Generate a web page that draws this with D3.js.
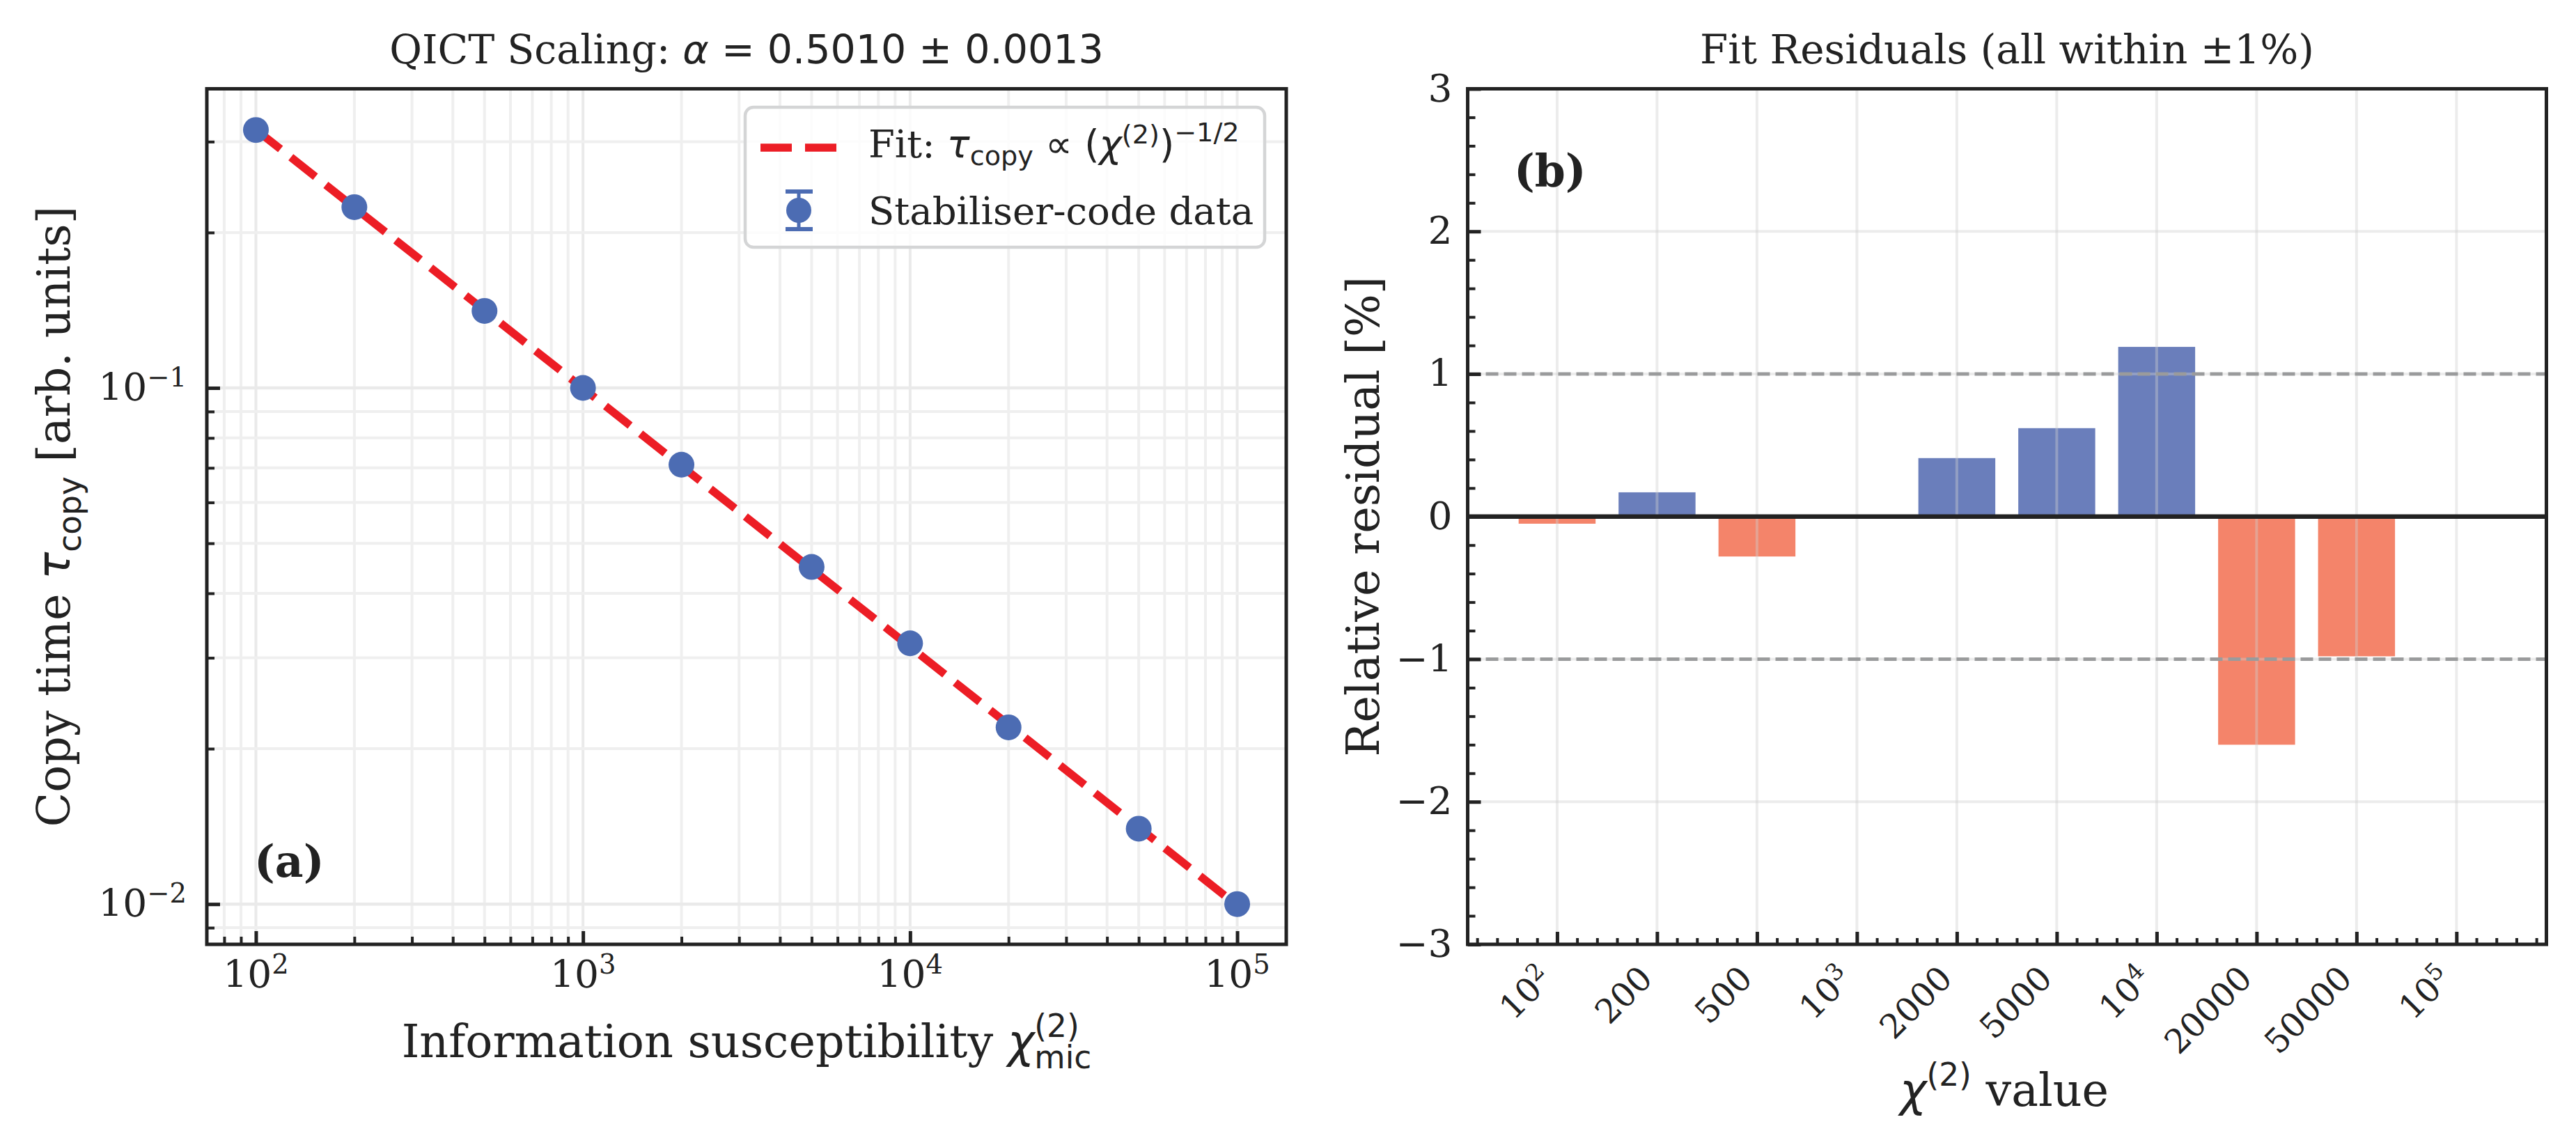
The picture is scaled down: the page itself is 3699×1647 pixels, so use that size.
<!DOCTYPE html>
<html>
<head>
<meta charset="utf-8">
<title>QICT scaling and fit residuals</title>
<script src="https://d3js.org/d3.v7.min.js"></script>
<style>
  body { margin: 0; background: #fff; }
  text { white-space: pre; }
</style>
</head>
<body>
<svg id="chart"></svg>
<script>
// values
const chiValues = [100, 200, 500, 1000, 2000, 5000, 10000, 20000, 50000, 100000];
const tauValues = [0.316, 0.224, 0.141, 0.100, 0.071, 0.045, 0.032, 0.022, 0.014, 0.010];
const tauErrors = [0.0025, 0.0018, 0.0011, 0.0008, 0.00055, 0.00035, 0.00025, 0.00017, 0.00011, 0.00008];
const fitChi = [100, 100000];
const fitTau = [0.3165, 0.00994];

const residualLabels = [['10', '2'], ['200'], ['500'], ['10', '3'], ['2000'], ['5000'], ['10', '4'], ['20000'], ['50000'], ['10', '5']];
const residuals = [-0.05, 0.17, -0.28, 0.00, 0.41, 0.62, 1.19, -1.60, -0.98, 0.00];
const residualTicks = [-3, -2, -1, 0, 1, 2, 3];
const bandLimits = [-1, 1];

const W = 3699, H = 1647;
const SERIF = "'DejaVu Serif', serif";
const SANS = "'DejaVu Sans', sans-serif";
const INK = '#222';
const BLUE = '#4c6cb3';
const RED = '#ec1d25';
const BAR_POS = '#6a7ebb';
const BAR_NEG = '#f4846a';

const svg = d3.select('#chart').attr('width', W).attr('height', H)
    .style('background', '#fff');

// lays out a row of text runs (sub/superscripts etc.) and anchors the whole row
function richText(parent, runs, opts) {
    const g = parent.append('g');
    const base = opts.size;
    let x = 0, runStart = 0;
    const nodes = [];
    runs.forEach(r => {
        const t = g.append('text')
            .attr('y', (r.shift || 0) * base)
            .attr('font-family', r.sans ? SANS : SERIF)
            .attr('font-size', base * (r.scale || 1))
            .attr('font-style', r.italic ? 'italic' : 'normal')
            .attr('font-weight', opts.bold ? 'bold' : 'normal')
            .attr('fill', INK)
            .text(r.t);
        const start = r.stack ? runStart : x;
        if (!r.stack) runStart = start;
        t.attr('x', start);
        x = Math.max(x, start + t.node().getComputedTextLength());
        nodes.push(t);
    });
    const off = opts.anchor === 'middle' ? -x / 2 : opts.anchor === 'end' ? -x : 0;
    nodes.forEach(t => t.attr('x', +t.attr('x') + off));
    if (opts.transform) g.attr('transform', opts.transform);
    return g;
}
const SUP = { scale: 0.7, shift: -0.36 };
const SUB = { scale: 0.7, shift: 0.2 };
const minus = d => (d < 0 ? '−' : '') + Math.abs(d);

function styleTicks(g, width) {
    g.attr('color', INK);
    g.select('.domain').remove();
    g.selectAll('line').attr('stroke-width', width);
}

// ---------------- panel (a) ----------------
const A = { left: 297, right: 1847, top: 127.5, bottom: 1356 };
const xA = d3.scaleLog().domain([10 ** 1.85, 10 ** 5.15]).range([A.left, A.right]);
const yA = d3.scaleLog().domain([10 ** -2.078, 10 ** -0.4205]).range([A.bottom, A.top]);
const isDecade = v => Math.abs(Math.log10(v) - Math.round(Math.log10(v))) < 1e-9;
const xAll = xA.ticks(), yAll = yA.ticks();
const xMajor = xAll.filter(isDecade), xMinor = xAll.filter(v => !isDecade(v));
const yMajor = yAll.filter(isDecade), yMinor = yAll.filter(v => !isDecade(v));

const pa = svg.append('g');
const gridA = pa.append('g');
gridA.selectAll('.vx').data(xAll).enter().append('line')
    .attr('x1', d => xA(d)).attr('x2', d => xA(d))
    .attr('y1', A.top).attr('y2', A.bottom)
    .attr('stroke', d => isDecade(d) ? '#eaeaea' : '#efefef')
    .attr('stroke-width', 4);
gridA.selectAll('.hy').data(yAll).enter().append('line')
    .attr('y1', d => yA(d)).attr('y2', d => yA(d))
    .attr('x1', A.left).attr('x2', A.right)
    .attr('stroke', d => isDecade(d) ? '#eaeaea' : '#efefef')
    .attr('stroke-width', d => isDecade(d) ? 4.5 : 4);

// fit line
pa.append('path')
    .datum(fitChi.map((c, i) => [c, fitTau[i]]))
    .attr('d', d3.line().x(d => xA(d[0])).y(d => yA(d[1])))
    .attr('fill', 'none').attr('stroke', RED).attr('stroke-width', 11.5)
    .attr('stroke-dasharray', '45 19');

// error bars and markers
const pts = chiValues.map((c, i) => ({ c, t: tauValues[i], e: tauErrors[i] }));
const eb = pa.append('g').attr('stroke', BLUE).attr('stroke-width', 5);
eb.selectAll('.bar').data(pts).enter().append('line')
    .attr('x1', d => xA(d.c)).attr('x2', d => xA(d.c))
    .attr('y1', d => yA(d.t - d.e)).attr('y2', d => yA(d.t + d.e));
eb.selectAll('.capHi').data(pts).enter().append('line')
    .attr('x1', d => xA(d.c) - 17).attr('x2', d => xA(d.c) + 17)
    .attr('y1', d => yA(d.t + d.e)).attr('y2', d => yA(d.t + d.e));
eb.selectAll('.capLo').data(pts).enter().append('line')
    .attr('x1', d => xA(d.c) - 17).attr('x2', d => xA(d.c) + 17)
    .attr('y1', d => yA(d.t - d.e)).attr('y2', d => yA(d.t - d.e));
pa.selectAll('.pt').data(pts).enter().append('circle')
    .attr('cx', d => xA(d.c)).attr('cy', d => yA(d.t)).attr('r', 18.5)
    .attr('fill', BLUE);

// ticks
pa.append('g').attr('transform', `translate(0,${A.bottom})`)
    .call(d3.axisBottom(xA).tickValues(xMajor).tickSize(-19).tickFormat(''))
    .call(g => styleTicks(g, 5));
pa.append('g').attr('transform', `translate(0,${A.bottom})`)
    .call(d3.axisBottom(xA).tickValues(xMinor).tickSize(-11).tickFormat(''))
    .call(g => styleTicks(g, 4));
pa.append('g').attr('transform', `translate(${A.left},0)`)
    .call(d3.axisLeft(yA).tickValues(yMajor).tickSize(-19).tickFormat(''))
    .call(g => styleTicks(g, 5));
pa.append('g').attr('transform', `translate(${A.left},0)`)
    .call(d3.axisLeft(yA).tickValues(yMinor).tickSize(-11).tickFormat(''))
    .call(g => styleTicks(g, 4));

xMajor.forEach(v => richText(pa, [{ t: '10' }, { t: String(Math.round(Math.log10(v))), ...SUP }],
    { size: 55, anchor: 'middle', transform: `translate(${xA(v)},1418)` }));
yMajor.forEach(v => richText(pa, [{ t: '10' }, { t: minus(Math.round(Math.log10(v))), ...SUP }],
    { size: 55, anchor: 'end', transform: `translate(268,${yA(v) + 18})` }));

// legend
const leg = pa.append('g');
leg.append('rect').attr('x', 1070).attr('y', 154).attr('width', 746).attr('height', 201)
    .attr('rx', 12).attr('fill', '#fff').attr('fill-opacity', 0.82)
    .attr('stroke', '#d4d5d6').attr('stroke-width', 4.5);
leg.append('line').attr('x1', 1092).attr('x2', 1201).attr('y1', 212).attr('y2', 212)
    .attr('stroke', RED).attr('stroke-width', 11.5).attr('stroke-dasharray', '45 19');
leg.append('line').attr('x1', 1147).attr('x2', 1147).attr('y1', 275).attr('y2', 329)
    .attr('stroke', BLUE).attr('stroke-width', 5);
[275, 329].forEach(y => leg.append('line').attr('x1', 1128).attr('x2', 1167)
    .attr('y1', y).attr('y2', y).attr('stroke', BLUE).attr('stroke-width', 6));
leg.append('circle').attr('cx', 1147).attr('cy', 302).attr('r', 18).attr('fill', BLUE);
richText(leg, [
    { t: 'Fit: ' }, { t: 'τ', sans: true, italic: true }, { t: 'copy', sans: true, ...SUB },
    { t: ' ∝ (', sans: true }, { t: 'χ', sans: true, italic: true },
    { t: '(2)', sans: true, ...SUP }, { t: ')', sans: true }, { t: '−1/2', sans: true, scale: 0.7, shift: -0.42 }
], { size: 54.5, anchor: 'start', transform: 'translate(1247,226)' });
richText(leg, [{ t: 'Stabiliser-code data' }], { size: 54.5, anchor: 'start', transform: 'translate(1247,322)' });

// title, labels
richText(pa, [{ t: 'QICT Scaling: ' }, { t: 'α', sans: true, italic: true }, { t: ' = 0.5010 ± 0.0013', sans: true }],
    { size: 57, anchor: 'middle', transform: `translate(${(A.left + A.right) / 2},91)` });
richText(pa, [{ t: 'Information susceptibility ' }, { t: 'χ', sans: true, italic: true },
    { t: '(2)', sans: true, scale: 0.7, shift: -0.45 }, { t: 'mic', sans: true, scale: 0.7, shift: 0.25, stack: true }],
    { size: 65, anchor: 'middle', transform: `translate(${(A.left + A.right) / 2},1518)` });
richText(pa, [{ t: 'Copy time ' }, { t: 'τ', sans: true, italic: true }, { t: 'copy', sans: true, scale: 0.7, shift: 0.25 },
    { t: ' [arb. units]' }],
    { size: 65, anchor: 'middle', transform: `translate(100,${(A.top + A.bottom) / 2}) rotate(-90)` });
richText(pa, [{ t: '(a)' }], { size: 63, bold: true, anchor: 'start', transform: 'translate(365,1259)' });

pa.append('rect').attr('x', A.left).attr('y', A.top)
    .attr('width', A.right - A.left).attr('height', A.bottom - A.top)
    .attr('fill', 'none').attr('stroke', INK).attr('stroke-width', 5);

// ---------------- panel (b) ----------------
const B = { left: 2107.5, right: 3656.5, top: 127.5, bottom: 1356 };
const xB = d3.scaleLinear().domain([-0.895, 9.9]).range([B.left, B.right]);
const yB = d3.scaleLinear().domain([-3, 3]).range([B.bottom, B.top]);
const cats = residuals.map((r, i) => ({ i, r, label: residualLabels[i] }));
const barW = 0.77;

const pb = svg.append('g');
pb.selectAll('.bar').data(cats).enter().append('rect')
    .attr('x', d => xB(d.i - barW / 2))
    .attr('width', xB(barW) - xB(0))
    .attr('y', d => yB(Math.max(0, d.r)))
    .attr('height', d => Math.abs(yB(d.r) - yB(0)))
    .attr('fill', d => d.r >= 0 ? BAR_POS : BAR_NEG);

// grid sits above the bars, as in the original
const gridB = pb.append('g').attr('stroke', '#cfcfcf').attr('stroke-opacity', 0.4).attr('stroke-width', 4);
gridB.selectAll('.vx').data(cats).enter().append('line')
    .attr('x1', d => xB(d.i)).attr('x2', d => xB(d.i)).attr('y1', B.top).attr('y2', B.bottom);
gridB.selectAll('.hy').data(residualTicks).enter().append('line')
    .attr('y1', d => yB(d)).attr('y2', d => yB(d)).attr('x1', B.left).attr('x2', B.right);

pb.selectAll('.band').data(bandLimits).enter().append('line')
    .attr('x1', B.left).attr('x2', B.right).attr('y1', d => yB(d)).attr('y2', d => yB(d))
    .attr('stroke', '#9a9b9c').attr('stroke-width', 5).attr('stroke-dasharray', '18 8');
pb.append('line').attr('x1', B.left).attr('x2', B.right).attr('y1', yB(0)).attr('y2', yB(0))
    .attr('stroke', INK).attr('stroke-width', 6.5);

const xMinorB = xB.ticks(50).filter(v => Math.abs(v - Math.round(v)) > 1e-6);
const yMinorB = yB.ticks(30).filter(v => Math.abs(v - Math.round(v)) > 1e-6);
pb.append('g').attr('transform', `translate(0,${B.bottom})`)
    .call(d3.axisBottom(xB).tickValues(cats.map(d => d.i)).tickSize(-18).tickFormat(''))
    .call(g => styleTicks(g, 5));
pb.append('g').attr('transform', `translate(0,${B.bottom})`)
    .call(d3.axisBottom(xB).tickValues(xMinorB).tickSize(-9).tickFormat(''))
    .call(g => styleTicks(g, 4));
pb.append('g').attr('transform', `translate(${B.left},0)`)
    .call(d3.axisLeft(yB).tickValues(residualTicks).tickSize(-19).tickPadding(22).tickFormat(minus))
    .call(g => styleTicks(g, 5))
    .call(g => g.selectAll('text').attr('font-family', SERIF).attr('font-size', 55).attr('fill', INK));
pb.append('g').attr('transform', `translate(${B.left},0)`)
    .call(d3.axisLeft(yB).tickValues(yMinorB).tickSize(-11).tickFormat(''))
    .call(g => styleTicks(g, 4));

cats.forEach(d => {
    const runs = d.label.length === 2 ? [{ t: d.label[0] }, { t: d.label[1], ...SUP }] : [{ t: d.label[0] }];
    richText(pb, runs, { size: 48, anchor: 'end', transform: `translate(${xB(d.i) - 4},1408) rotate(-45)` });
});

richText(pb, [{ t: 'Fit Residuals (all within ±1%)' }],
    { size: 58, anchor: 'middle', transform: `translate(${(B.left + B.right) / 2},91)` });
richText(pb, [{ t: 'χ', sans: true, italic: true }, { t: '(2)', sans: true, scale: 0.7, shift: -0.45 }, { t: ' value' }],
    { size: 65, anchor: 'middle', transform: `translate(${(B.left + B.right) / 2 - 4},1588)` });
richText(pb, [{ t: 'Relative residual [%]' }],
    { size: 65, anchor: 'middle', transform: `translate(1980,${(B.top + B.bottom) / 2}) rotate(-90)` });
richText(pb, [{ t: '(b)' }], { size: 63, bold: true, anchor: 'start', transform: 'translate(2174,267)' });

pb.append('rect').attr('x', B.left).attr('y', B.top)
    .attr('width', B.right - B.left).attr('height', B.bottom - B.top)
    .attr('fill', 'none').attr('stroke', INK).attr('stroke-width', 5);
</script>
</body>
</html>
